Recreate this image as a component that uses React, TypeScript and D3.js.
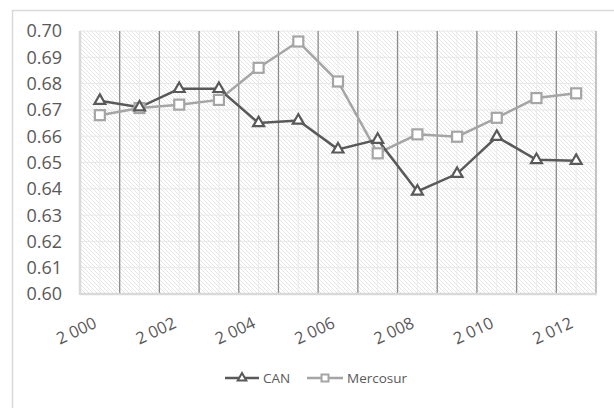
import * as d3 from "d3";

const years = ["2000", "2001", "2002", "2003", "2004", "2005", "2006", "2007", "2008", "2009", "2010", "2011", "2012"];
const canValues = [0.6735, 0.671, 0.678, 0.678, 0.665, 0.666, 0.655, 0.6587, 0.639, 0.6457, 0.6598, 0.651, 0.6507];
const mercosurValues = [0.668, 0.6707, 0.672, 0.6738, 0.686, 0.696, 0.6808, 0.6535, 0.6607, 0.6598, 0.667, 0.6745, 0.6763];
const yTicks = [0.6, 0.61, 0.62, 0.63, 0.64, 0.65, 0.66, 0.67, 0.68, 0.69, 0.7];
const xLabelYears = ["2000", "2002", "2004", "2006", "2008", "2010", "2012"];

const W = 614;
const H = 408;
const font = "'Open Sans', sans-serif";
const CAN_COLOR = "#595959";
const MER_COLOR = "#a5a5a5";

export default function App() {
  const left = 80;
  const right = 596;
  const top = 31;
  const bottom = 294;

  const x = d3.scaleBand<string>().domain(years).range([left, right]);
  const y = d3.scaleLinear().domain([0.6, 0.7]).range([bottom, top]);
  const cx = (yr: string) => (x(yr) as number) + x.bandwidth() / 2;

  const line = d3
    .line<number>()
    .x((_, i) => cx(years[i]))
    .y((d) => y(d));

  const tri = d3.symbol().type(d3.symbolTriangle).size(52)();

  const yearLabel = (s: string) => d3.format(",")(+s).replace(",", " ");

  return (
    <svg
      width={W}
      height={H}
      style={{ position: "absolute", left: 0, top: 0, background: "#fff" }}
    >
      <defs>
        <pattern id="hatch" patternUnits="userSpaceOnUse" width="4" height="4">
          <rect width="4" height="4" fill="#fff" />
          <path d="M0,0 L4,4 M-1,3 L1,5 M3,-1 L5,1" stroke="#dedede" strokeWidth="0.8" />
        </pattern>
      </defs>

      <rect x={12.5} y={10.5} width={W} height={H} fill="none" stroke="#d9d9d9" strokeWidth={1.5} />

      <rect x={left} y={top} width={right - left} height={bottom - top} fill="url(#hatch)" />

      {yTicks.map((t) => (
        <line key={"h" + t} x1={left} x2={right} y1={y(t)} y2={y(t)} stroke="#e8e8e8" strokeWidth={1} />
      ))}
      {years.map((yr) => (
        <line key={"m" + yr} x1={cx(yr)} x2={cx(yr)} y1={top} y2={bottom} stroke="#ececec" strokeWidth={1} />
      ))}
      {years.slice(1).map((yr) => (
        <line
          key={"v" + yr}
          x1={x(yr) as number}
          x2={x(yr) as number}
          y1={top}
          y2={bottom}
          stroke="#8c8c8c"
          strokeWidth={1.3}
        />
      ))}
      <line x1={right} x2={right} y1={top} y2={bottom} stroke="#a6a6a6" strokeWidth={1.3} />
      <line x1={left} x2={left} y1={top} y2={bottom + 1} stroke="#d9d9d9" strokeWidth={2.5} />
      <line x1={left} x2={right + 1} y1={bottom} y2={bottom} stroke="#d9d9d9" strokeWidth={2.5} />

      {yTicks.map((t) => (
        <text
          key={"yl" + t}
          x={62}
          y={y(t)}
          dy="0.36em"
          textAnchor="end"
          fontFamily={font}
          fontSize={18}
          fill="#595959"
        >
          {t.toFixed(2)}
        </text>
      ))}

      {xLabelYears.map((yr) => (
        <text
          key={"xl" + yr}
          transform={`translate(${cx(yr) - 2},${bottom + 33}) rotate(-25)`}
          textAnchor="end"
          fontFamily={font}
          fontSize={16.5}
          fill="#595959"
        >
          {yearLabel(yr)}
        </text>
      ))}

      <path d={line(mercosurValues) as string} fill="none" stroke={MER_COLOR} strokeWidth={2.5} />
      <path d={line(canValues) as string} fill="none" stroke={CAN_COLOR} strokeWidth={2.5} />

      {mercosurValues.map((v, i) => (
        <rect
          key={"ms" + i}
          x={cx(years[i]) - 5}
          y={y(v) - 5}
          width={10}
          height={10}
          fill="#fff"
          stroke={MER_COLOR}
          strokeWidth={2.2}
        />
      ))}
      {canValues.map((v, i) => (
        <path
          key={"ct" + i}
          d={tri as string}
          transform={`translate(${cx(years[i])},${y(v)})`}
          fill="#fff"
          stroke={CAN_COLOR}
          strokeWidth={2.2}
        />
      ))}

      <g fontFamily={font} fontSize={13.5} fill="#595959">
        <line x1={225} x2={259} y1={378} y2={378} stroke={CAN_COLOR} strokeWidth={2.5} />
        <path d={d3.symbol().type(d3.symbolTriangle).size(32)() as string} transform="translate(242,378)" fill="#fff" stroke={CAN_COLOR} strokeWidth={2} />
        <text x={263} y={378} dy="0.36em">CAN</text>
        <line x1={307} x2={343} y1={378} y2={378} stroke={MER_COLOR} strokeWidth={2.5} />
        <rect x={321.5} y={374.5} width={7} height={7} fill="#fff" stroke={MER_COLOR} strokeWidth={2} />
        <text x={347} y={378} dy="0.36em">Mercosur</text>
      </g>
    </svg>
  );
}
